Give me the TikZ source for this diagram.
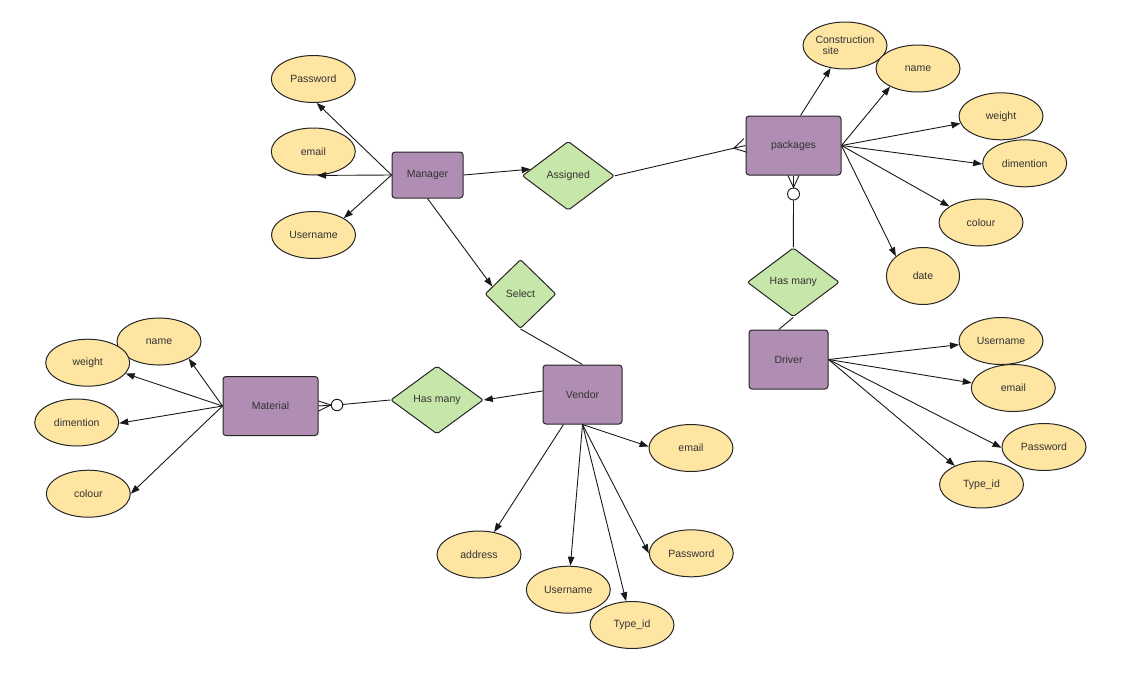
\documentclass[tikz,border=0pt]{standalone}
\usepackage{fontspec}
\setmainfont{Liberation Sans}
\usetikzlibrary{shapes.geometric,arrows.meta,calc}
\definecolor{ent}{HTML}{B08DB3}
\definecolor{rel}{HTML}{C7E6A9}
\definecolor{att}{HTML}{FEE5A2}
\definecolor{txt}{HTML}{333333}
\begin{document}
\begin{tikzpicture}[x=1pt,y=-1pt,
  every node/.style={font=\fontsize{10.5}{11}\selectfont, text=txt, inner sep=0pt},
  entity/.style={rectangle, draw=black!85, line width=1pt, fill=ent, rounded corners=3pt, minimum width=#1, minimum height=59pt},
  relbox/.style={diamond, draw=black!85, line width=1pt, fill=rel, rounded corners=2pt, minimum width=#1, minimum height=69pt},
  attr/.style={ellipse, draw=black!85, line width=1pt, fill=att, minimum width=84pt, minimum height=47pt},
  conn/.style={line width=0.9pt, draw=black!90},
  arr/.style={conn, -{Triangle[length=9pt,width=6.5pt]}},
  ring/.style={circle, draw=black!90, line width=0.9pt, fill=white, minimum size=12pt}
]
\useasboundingbox (0,0) rectangle (1140,673);

% entities
\node[entity=71pt, minimum height=46pt] (man) at (427.5,175) {Manager};
\node[entity=95pt] (pk) at (793.5,145.5) {packages};
\node[entity=79pt] (drv) at (788.5,359.5) {Driver};
\node[entity=95pt] (mat) at (270.5,406) {Material};
\node[entity=79pt] (ven) at (582.5,394.5) {Vendor};

% relationships
\node[relbox=92pt] (asg) at (568.3,175.8) {Assigned};
\node[relbox=71pt] (sel) at (520.5,294) {Select};
\node[relbox=92pt] (hm1) at (793.3,282.3) {Has many};
\node[relbox=92.6pt, minimum height=68pt] (hm2) at (437,400) {Has many};

% attributes: Manager
\node[attr] (mpass) at (313.3,79) {Password};
\node[attr] (memail) at (313.3,151.5) {email};
\node[attr] (muser) at (313.5,235) {Username};
% attributes: packages
\node[attr, align=left] (cs) at (845,45.5) {Construction\\\hspace*{7pt}site};
\node[attr] (pname) at (918,68.5) {name};
\node[attr] (pweight) at (1001,116.3) {weight};
\node[attr] (pdim) at (1024.7,163.3) {dimention};
\node[attr] (pcol) at (981,222.5) {colour};
\node[attr, minimum width=73pt, minimum height=57pt] (pdate) at (923,276) {date};
% attributes: Driver
\node[attr] (duser) at (1001,341) {Username};
\node[attr] (demail) at (1013.3,388) {email};
\node[attr] (dpass) at (1044,447) {Password};
\node[attr] (dtype) at (981.5,484.5) {Type\_id};
% attributes: Material
\node[attr] (maname) at (159,341.5) {name};
\node[attr] (maweight) at (87.7,362.7) {weight};
\node[attr] (madim) at (76.7,422.5) {dimention};
\node[attr] (macol) at (88.3,493.7) {colour};
% attributes: Vendor
\node[attr] (vemail) at (691,448) {email};
\node[attr] (vaddr) at (479,554.5) {address};
\node[attr] (vpass) at (691.3,553.3) {Password};
\node[attr] (vuser) at (568.3,589.7) {Username};
\node[attr] (vtype) at (632,625) {Type\_id};

% rings
\node[ring] (c1) at (793.5,194) {};
\node[ring, minimum size=11.5pt] (c2) at (337,405) {};

% relationship connectors
\draw[arr] (man.east) -- (asg.170);
\draw[conn] (asg.east) -- (pk.west);
\coordinate (pkf) at ($(pk.west)!12pt!(asg.east)$);
\draw[conn] ($(pk.west)!7pt!90:(asg.east)$) -- (pkf) -- ($(pk.west)!7pt!-90:(asg.east)$);

\draw[conn] ($(pk.south)+(-5.5,0)$) -- (c1.north) -- ($(pk.south)+(5.5,0)$);
\draw[conn] (pk.south) -- (c1.north);
\draw[conn] (c1.south) -- (hm1.north);
\draw[conn] (hm1.south) -- (drv.108);

\draw[arr] (man.south) -- (sel.165);
\draw[conn] (sel.south) -- (ven.north);

\draw[arr] (ven.175) -- (hm2.east);
\draw[conn] (hm2.west) -- (c2);
\draw[conn] ($(mat.east)+(0,-5)$) -- (c2.west) -- ($(mat.east)+(0,5)$);
\draw[conn] (mat.east) -- (c2.west);

% Manager attributes
\draw[arr] (man.west) -- (mpass.278);
\draw[arr] (man.west) -- (memail.279);
\draw[arr] (man.west) -- (muser.29);

% packages attributes
\draw[arr] ($(pk.north)+(7,0)$) -- (cs);
\draw[arr] (pk.east) -- (pname.213);
\draw[arr] (pk.east) -- (pweight.190);
\draw[arr] (pk.east) -- (pdim.181);
\draw[arr] (pk.east) -- (pcol.153);
\draw[arr] (pk.east) -- (pdate.144);

% Driver attributes
\draw[arr] (drv.east) -- (duser.185);
\draw[arr] (drv.east) -- (demail.173);
\draw[arr] (drv.east) -- (dpass.181);
\draw[arr] (drv.east) -- (dtype.145);

% Material attributes
\draw[arr] (mat.west) -- (maname.330);
\draw[arr] (mat.west) -- (maweight.344);
\draw[arr] (mat.west) -- (madim.359);
\draw[arr] (mat.west) -- (macol.0);

% Vendor attributes
\draw[arr] ($(ven.south)+(-19,0)$) -- (vaddr.56);
\draw[arr] (ven.south) -- (vuser.85);
\draw[arr] (ven.south) -- (vtype.104);
\draw[arr] (ven.south) -- (vpass.180);
\draw[arr] (ven.south) -- (vemail.178);
\end{tikzpicture}
\end{document}
